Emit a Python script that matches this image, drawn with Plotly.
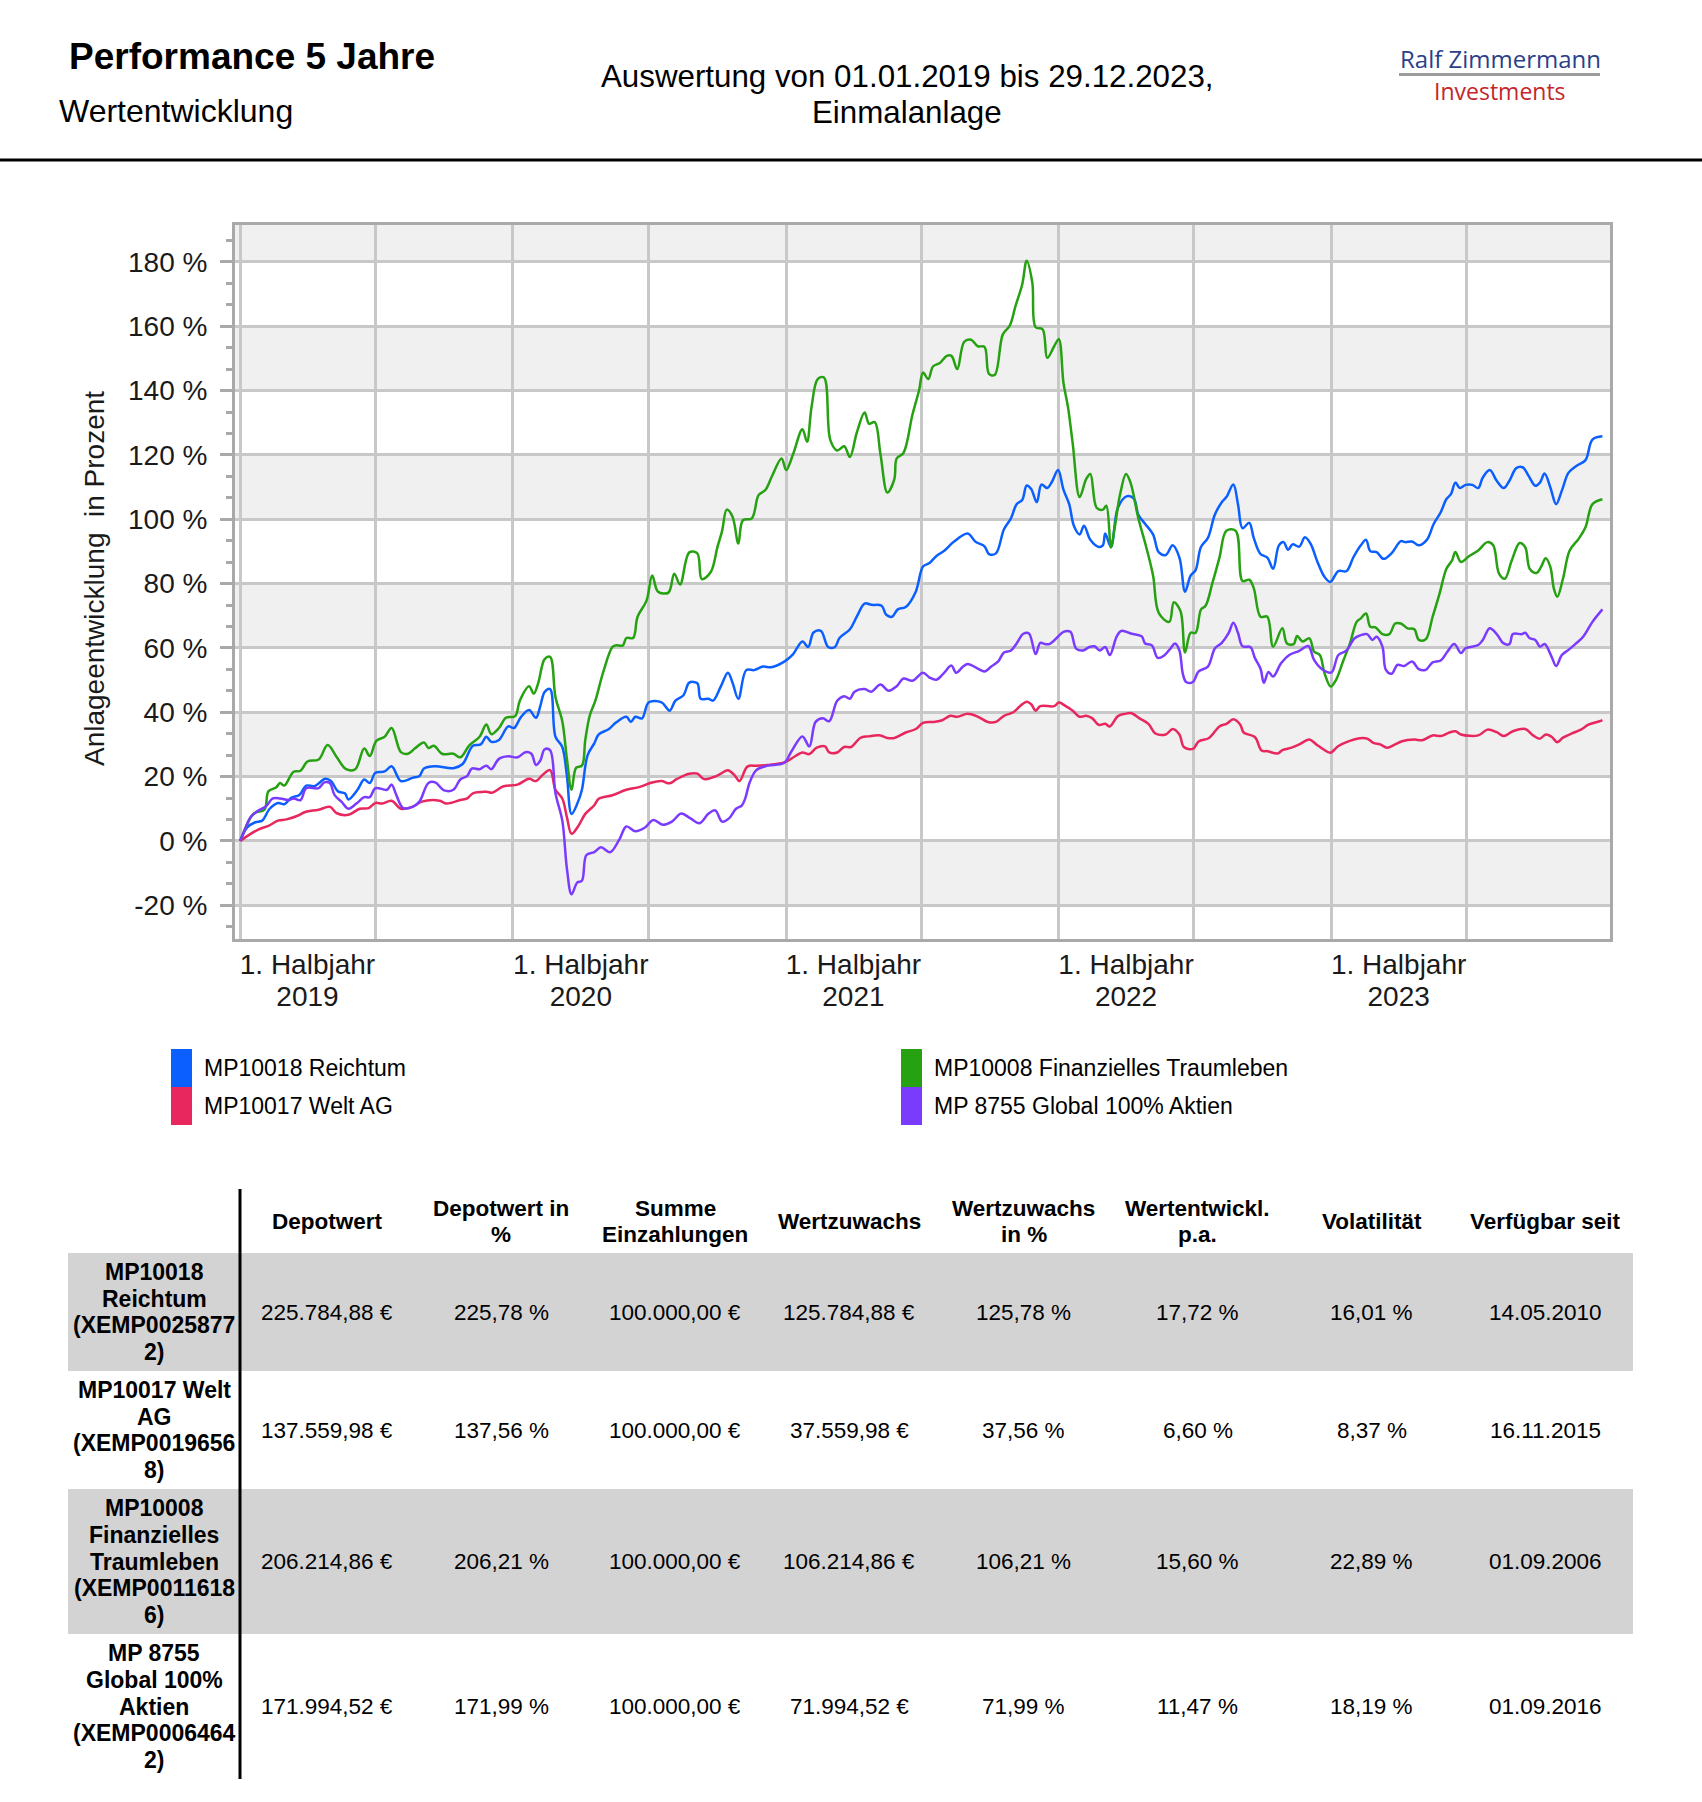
import pandas as pd
import plotly.graph_objects as go

W, H = 1702, 1802
FONT = "Liberation Sans, Arial, sans-serif"
LOGO_FONT = "Open Sans, sans-serif"

# ---------------- chart data (x: months since 01.01.2019, y: Anlageentwicklung in %) -------------
reichtum_m = [0, 0.3, 0.65, 0.95, 1.3, 1.7, 2.0, 2.3, 2.65, 2.95, 3.3, 3.8, 4.05, 4.35, 4.65, 4.8, 5.2, 5.5, 5.75, 6.0,
              6.4, 6.7, 7.1, 7.6, 7.9, 8.1, 8.6, 9.4, 9.8, 10.25, 10.6, 10.85, 11.07, 11.4, 11.8, 12.05, 12.35, 12.7,
              13.0, 13.2, 13.4, 13.65, 13.9, 14.2, 14.4, 14.6, 14.85, 15.05, 15.3, 15.6, 15.8, 16.25, 16.55, 17.0,
              17.2, 17.4, 17.7, 18.0, 18.55, 18.9, 19.15, 19.5, 19.75, 20.1, 20.25, 20.6, 20.8, 21.15, 21.45, 21.65,
              21.9, 22.25, 22.6, 23.0, 23.35, 23.95, 24.3, 24.7, 24.95, 25.2, 25.55, 25.9, 26.2, 26.4, 26.85, 27.15,
              27.5, 27.8, 28.25, 28.45, 28.7, 28.95, 29.3, 29.75, 30.07, 30.35, 30.65, 31.0, 31.4, 32.0, 32.35, 32.75,
              32.95, 33.25, 33.6, 33.9, 34.15, 34.4, 34.6, 34.8, 35.05, 35.25, 35.5, 35.7, 35.97, 36.2, 36.45, 36.65,
              36.9, 37.1, 37.4, 37.8, 38.0, 38.1, 38.35, 38.65, 39.05, 39.35, 39.55, 39.85, 40.2, 40.45, 40.75, 41.05,
              41.35, 41.6, 41.85, 42.07, 42.3, 42.6, 42.9, 43.2, 43.4, 43.7, 43.9, 44.1, 44.4, 44.6, 44.9, 45.2,
              45.45, 45.7, 45.9, 46.1, 46.3, 46.6, 46.85, 47.1, 47.4, 47.7, 47.95, 48.3, 48.65, 48.95, 49.3, 49.55,
              49.75, 50.05, 50.35, 50.7, 51.1, 51.3, 51.6, 51.9, 52.25, 52.55, 52.85, 53.1, 53.3, 53.5, 53.7, 53.95,
              54.25, 54.5, 54.7, 55.0, 55.3, 55.6, 55.85, 56.15, 56.45, 56.7, 57.0, 57.2, 57.4, 57.65, 57.9, 58.15,
              58.45, 58.8, 59.2, 59.5, 59.93]
reichtum_v = [0, 4.2, 5.8, 6.3, 10.0, 11.8, 11.4, 13.4, 14.3, 17.2, 17.0, 19.3, 18.6, 15.4, 14.8, 12.9, 15.9, 19.1,
              18.0, 21.2, 21.6, 23.2, 18.6, 19.6, 20.2, 22.5, 23.2, 22.6, 23.9, 29.6, 30.0, 32.4, 30.8, 31.4, 35.6,
              35.1, 38.5, 40.7, 38.3, 42.0, 46.3, 47.2, 32.4, 29.2, 20.2, 8.4, 11.6, 15.9, 26.6, 30.3, 33.1, 34.8,
              36.8, 38.6, 37.0, 38.6, 38.1, 43.1, 43.1, 40.5, 43.6, 45.3, 49.2, 49.0, 44.2, 44.2, 43.6, 48.1, 52.3,
              49.2, 44.2, 53.1, 53.1, 54.2, 54.0, 55.9, 58.1, 62.0, 60.3, 64.8, 65.3, 60.3, 60.3, 63.1, 65.8, 69.7,
              73.8, 73.4, 73.1, 70.3, 69.7, 72.0, 72.7, 77.5, 85.3, 86.4, 88.6, 90.3, 93.0, 95.6, 93.0, 91.6, 89.2,
              89.4, 96.9, 100.3, 104.7, 106.0, 110.5, 109.4, 105.3, 110.8, 109.7, 111.6, 115.3, 109.2, 104.7, 98.0,
              95.3, 98.0, 93.6, 91.4, 91.9, 95.6, 91.4, 103.6, 107.2, 106.4, 101.4, 98.6, 95.3, 89.7, 88.9, 91.9,
              88.1, 77.5, 82.5, 84.2, 91.4, 94.2, 101.4, 105.3, 106.9, 110.8, 104.7, 97.2, 98.9, 94.2, 89.2, 88.1,
              84.6, 91.9, 92.9, 90.5, 92.2, 91.5, 94.4, 92.4, 86.7, 82.1, 80.5, 83.9, 83.9, 88.2, 91.9, 93.6, 90.1,
              89.8, 87.7, 89.5, 93.2, 92.9, 93.1, 91.9, 93.6, 98.6, 102.2, 106.3, 107.8, 111.4, 109.7, 110.7, 110.7,
              109.7, 113.0, 115.3, 112.0, 109.7, 112.0, 115.9, 116.1, 113.5, 110.4, 111.4, 114.2, 109.9, 104.7,
              108.9, 114.5, 116.6, 118.4, 124.8, 125.78]

welt_m = [0, 0.45, 0.8, 1.24, 1.7, 2.1, 2.6, 2.9, 3.5, 4.0, 4.3, 4.8, 5.3, 5.7, 6.0, 6.3, 6.7, 7.1, 7.6, 8.0, 8.8,
          9.1, 9.7, 10.0, 10.25, 10.85, 11.1, 11.6, 12.2, 12.7, 13.0, 13.3, 13.65, 13.9, 14.2, 14.4, 14.6, 14.9,
          15.2, 15.6, 15.8, 16.4, 17.0, 17.6, 18.1, 18.55, 18.9, 19.2, 19.75, 20.1, 20.4, 20.8, 21.15, 21.45,
          21.75, 21.95, 22.3, 22.7, 23.2, 23.95, 24.4, 24.7, 25.0, 25.35, 25.75, 25.95, 26.3, 26.6, 26.9, 27.3,
          27.65, 28.2, 28.5, 28.8, 29.3, 29.75, 30.07, 30.5, 30.9, 31.25, 31.55, 32.0, 32.45, 32.9, 33.25, 33.6,
          34.0, 34.3, 34.6, 34.8, 35.0, 35.2, 35.8, 36.0, 36.3, 36.6, 36.9, 37.2, 37.5, 37.8, 38.1, 38.3, 38.65,
          38.95, 39.25, 39.6, 40.0, 40.3, 40.75, 41.05, 41.35, 41.55, 41.95, 42.2, 42.65, 43.1, 43.4, 43.7, 44.0,
          44.15, 44.65, 44.95, 45.2, 45.65, 45.85, 46.25, 46.6, 47.05, 47.35, 47.65, 47.95, 48.3, 48.65, 49.25,
          49.6, 49.9, 50.2, 50.5, 50.85, 51.15, 51.7, 52.05, 52.5, 52.85, 53.2, 53.5, 53.75, 54.5, 54.9, 55.3,
          55.6, 56.0, 56.55, 56.9, 57.2, 57.45, 57.7, 57.95, 58.2, 58.6, 59.0, 59.35, 59.8, 59.93]
welt_v = [0, 2.2, 3.6, 4.7, 6.3, 6.7, 7.9, 9.0, 9.7, 10.6, 8.6, 8.1, 10.0, 10.2, 11.8, 11.6, 12.5, 10.0, 10.6, 12.2,
          12.5, 11.6, 12.7, 13.2, 14.8, 15.3, 15.0, 17.0, 17.5, 19.3, 18.6, 20.5, 22.0, 15.9, 13.2, 7.4, 2.2, 4.7,
          8.4, 11.1, 13.1, 14.2, 15.9, 16.8, 18.1, 18.6, 17.9, 19.2, 20.9, 20.9, 19.2, 19.8, 20.9, 22.0, 20.3,
          18.6, 23.1, 23.4, 23.6, 24.5, 26.4, 27.5, 27.0, 29.0, 29.4, 27.5, 27.5, 29.2, 29.2, 32.0, 32.5, 32.8,
          32.0, 32.0, 33.7, 34.8, 36.7, 37.0, 37.5, 38.9, 38.6, 39.5, 38.6, 37.0, 37.0, 38.9, 40.0, 41.9, 43.3,
          42.5, 40.5, 41.9, 41.9, 43.0, 41.9, 40.5, 38.6, 38.9, 38.1, 36.1, 36.4, 35.6, 38.8, 39.5, 39.7, 38.1,
          36.4, 33.4, 33.1, 34.8, 33.1, 29.2, 28.6, 30.9, 32.0, 35.6, 36.4, 37.8, 36.1, 33.7, 32.3, 28.1, 27.9,
          27.2, 28.2, 29.0, 30.0, 31.5, 30.0, 28.5, 27.4, 29.5, 30.7, 31.9, 31.8, 30.5, 30.0, 29.0, 30.0, 31.0,
          31.5, 31.3, 32.8, 32.6, 33.6, 34.1, 33.1, 32.8, 34.6, 33.8, 32.6, 34.1, 34.8, 32.8, 31.8, 33.1, 32.4,
          30.7, 32.1, 33.4, 34.6, 36.2, 37.2, 37.56]

traumleben_m = [0, 0.6, 1.05, 1.24, 1.6, 1.8, 2.0, 2.4, 2.7, 3.0, 3.5, 3.9, 4.3, 4.7, 5.1, 5.5, 5.75, 6.04, 6.4, 6.7,
                7.1, 7.4, 7.7, 8.1, 8.3, 8.55, 8.9, 9.4, 9.7, 10.1, 10.55, 10.85, 11.07, 11.4, 11.7, 12.1, 12.3, 12.7,
                12.9, 13.1, 13.4, 13.65, 13.9, 14.2, 14.4, 14.6, 14.8, 15.05, 15.2, 15.4, 15.65, 16.0, 16.4, 16.55,
                16.85, 17.0, 17.3, 17.5, 17.9, 18.15, 18.4, 18.85, 19.1, 19.35, 19.75, 20.1, 20.3, 20.7, 21.0, 21.2,
                21.4, 21.65, 21.9, 22.1, 22.5, 22.8, 23.1, 23.4, 23.8, 24.0, 24.3, 24.7, 24.9, 25.1, 25.4, 25.7, 26.0,
                26.3, 26.6, 26.85, 27.15, 27.5, 27.7, 27.95, 28.2, 28.5, 28.8, 28.9, 29.2, 29.6, 29.9, 30.07, 30.3,
                30.5, 30.8, 31.1, 31.3, 31.55, 31.85, 32.15, 32.45, 32.75, 32.95, 33.2, 33.55, 33.85, 34.1, 34.4,
                34.6, 34.85, 35.0, 35.3, 35.5, 35.8, 36.0, 36.2, 36.4, 36.6, 36.9, 37.2, 37.4, 37.7, 38.0, 38.15,
                38.35, 38.5, 38.75, 39.0, 39.2, 39.55, 39.9, 40.2, 40.45, 40.9, 41.1, 41.4, 41.6, 41.85, 42.07, 42.3,
                42.5, 42.8, 43.1, 43.4, 43.8, 44.1, 44.4, 44.6, 44.9, 45.2, 45.45, 45.85, 46.05, 46.35, 46.5, 46.75,
                47.05, 47.25, 47.5, 47.7, 47.97, 48.2, 48.5, 48.8, 49.1, 49.3, 49.55, 49.75, 50.0, 50.3, 50.6, 50.85,
                51.1, 51.4, 51.7, 51.9, 52.2, 52.5, 52.8, 53.1, 53.35, 53.5, 53.75, 54.1, 54.5, 54.9, 55.15, 55.4,
                55.65, 55.95, 56.3, 56.55, 56.75, 57.05, 57.25, 57.45, 57.65, 57.8, 57.95, 58.2, 58.5, 58.9, 59.2,
                59.5, 59.93]
traumleben_v = [0, 8.6, 9.7, 15.4, 16.6, 18.0, 17.2, 21.5, 21.8, 24.7, 25.3, 29.8, 26.0, 22.3, 22.3, 28.7, 26.4,
                31.1, 32.4, 35.1, 27.6, 27.1, 28.7, 30.6, 28.9, 29.6, 27.1, 27.1, 26.0, 29.8, 32.4, 36.2, 33.2, 35.1,
                38.3, 38.8, 43.6, 48.1, 45.8, 49.0, 56.5, 57.2, 44.7, 37.2, 25.5, 15.9, 22.8, 23.4, 31.4, 39.0, 43.6,
                52.5, 60.3, 60.8, 60.8, 63.1, 63.1, 69.7, 74.7, 82.5, 77.5, 77.2, 83.1, 79.7, 89.7, 89.4, 81.4, 83.6,
                91.4, 96.4, 103.0, 100.8, 92.5, 99.7, 100.3, 107.5, 109.1, 113.6, 118.9, 115.3, 120.3, 128.0, 124.1,
                134.7, 143.6, 144.1, 124.7, 121.4, 122.7, 119.4, 126.9, 133.2, 129.7, 130.2, 120.3, 108.3, 112.5,
                118.9, 120.6, 132.5, 140.2, 145.6, 143.6, 147.5, 148.6, 150.8, 150.8, 146.7, 155.2, 155.8, 153.8,
                153.6, 145.2, 144.9, 157.5, 160.2, 166.3, 173.0, 180.4, 173.6, 159.7, 159.1, 150.2, 153.8, 156.0,
                142.5, 134.7, 123.6, 106.9, 112.5, 114.1, 103.6, 103.0, 104.2, 91.2, 96.9, 108.0, 114.1, 111.4, 100.3,
                91.4, 82.5, 70.8, 68.1, 74.2, 71.4, 58.6, 64.7, 64.7, 71.9, 73.1, 80.3, 88.1, 96.4, 96.4, 80.8, 81.2,
                78.6, 69.7, 69.7, 60.4, 66.1, 61.4, 61.2, 63.7, 62.0, 63.0, 58.9, 57.8, 52.2, 48.0, 50.1, 55.8, 61.4,
                68.1, 69.2, 70.7, 66.6, 66.4, 64.3, 64.3, 67.6, 67.6, 66.1, 65.8, 62.5, 62.7, 69.7, 76.9, 84.6, 87.2,
                89.8, 86.7, 88.5, 90.3, 92.9, 91.9, 83.1, 81.5, 87.2, 92.6, 91.3, 84.6, 83.3, 85.2, 87.9, 85.2, 78.5,
                75.9, 81.5, 90.3, 93.9, 97.5, 104.7, 106.21]

global_m = [0, 0.2, 0.45, 0.8, 1.1, 1.45, 1.8, 2.2, 2.4, 2.7, 2.95, 3.5, 3.75, 4.0, 4.2, 4.5, 4.8, 5.15, 5.5, 5.75,
            6.0, 6.5, 6.7, 6.9, 7.2, 7.6, 7.9, 8.3, 8.6, 9.0, 9.4, 9.7, 10.0, 10.2, 10.55, 10.85, 11.07, 11.4, 11.8,
            12.2, 12.55, 12.8, 13.0, 13.2, 13.4, 13.65, 13.9, 14.2, 14.4, 14.6, 14.85, 15.05, 15.25, 15.6, 15.9,
            16.3, 16.7, 17.0, 17.4, 17.8, 18.2, 18.6, 19.0, 19.4, 19.8, 20.2, 20.6, 20.9, 21.2, 21.5, 21.8, 22.05,
            22.2, 22.4, 22.7, 23.2, 23.9, 24.25, 24.7, 25.0, 25.3, 25.65, 25.95, 26.3, 26.6, 26.85, 27.05, 27.5,
            27.8, 28.2, 28.55, 28.9, 29.2, 29.6, 30.07, 30.35, 30.65, 30.95, 31.3, 31.5, 31.8, 32.0, 32.45, 32.75,
            33.05, 33.35, 33.6, 33.9, 34.15, 34.45, 34.7, 35.0, 35.2, 35.4, 35.6, 35.95, 36.2, 36.5, 36.75, 37.05,
            37.35, 37.6, 37.85, 38.1, 38.3, 38.6, 38.8, 39.25, 39.7, 39.85, 40.15, 40.4, 40.65, 40.95, 41.15, 41.35,
            41.5, 41.65, 41.95, 42.2, 42.6, 42.9, 43.2, 43.5, 43.7, 43.9, 44.1, 44.45, 44.65, 44.9, 45.05, 45.25,
            45.45, 45.8, 46.15, 46.6, 47.0, 47.25, 47.6, 48.0, 48.3, 48.65, 49.0, 49.3, 49.6, 49.85, 50.05, 50.3,
            50.45, 50.7, 50.95, 51.25, 51.6, 51.9, 52.2, 52.5, 52.85, 53.15, 53.45, 53.75, 53.95, 54.5, 54.7, 55.0,
            55.3, 55.6, 55.85, 56.0, 56.4, 56.55, 56.75, 57.0, 57.2, 57.4, 57.7, 57.9, 58.15, 58.45, 58.75, 59.1,
            59.5, 59.93]
global_v = [0, 3.5, 7.4, 9.5, 10.6, 13.2, 13.2, 12.7, 13.2, 12.7, 16.4, 16.4, 18.2, 18.0, 14.3, 12.2, 10.0, 11.6,
            13.6, 13.6, 16.4, 15.9, 17.5, 14.3, 10.2, 10.6, 12.2, 18.0, 18.2, 15.7, 15.9, 19.1, 20.2, 22.5, 22.3,
            23.4, 22.3, 25.5, 26.3, 26.0, 27.6, 27.1, 23.6, 25.0, 28.5, 28.2, 14.8, 6.3, -8.6, -16.6, -12.9, -12.4,
            -4.4, -3.5, -2.0, -3.5, 0.5, 4.5, 3.0, 4.0, 6.5, 5.0, 6.0, 8.5, 7.0, 5.5, 8.5, 9.5, 6.0, 7.0, 10.0,
            11.0, 13.1, 18.1, 22.0, 23.4, 24.2, 28.1, 32.5, 29.4, 37.0, 38.1, 37.2, 43.6, 45.0, 44.2, 46.4, 47.2,
            46.4, 48.6, 46.7, 48.1, 50.5, 49.8, 52.3, 50.8, 50.1, 52.0, 54.5, 52.3, 54.2, 55.0, 53.6, 52.7, 54.2,
            55.8, 58.6, 59.2, 61.4, 64.4, 64.5, 58.1, 61.6, 61.2, 61.2, 63.4, 65.0, 65.0, 59.8, 59.2, 60.3, 60.5,
            59.2, 60.3, 57.8, 63.6, 65.3, 64.4, 63.6, 61.4, 60.8, 56.9, 57.5, 59.8, 61.4, 59.2, 52.0, 49.4, 49.4,
            52.7, 54.2, 59.8, 61.6, 64.7, 67.8, 64.7, 60.5, 60.3, 56.9, 53.6, 49.2, 52.5, 51.1, 55.3, 57.8, 59.1,
            60.6, 56.3, 53.4, 52.4, 57.8, 59.2, 63.0, 64.0, 64.3, 62.5, 63.5, 60.4, 53.2, 52.0, 54.7, 54.4, 55.8,
            53.4, 53.2, 55.5, 56.1, 58.9, 61.2, 58.4, 59.9, 60.9, 62.5, 66.1, 64.3, 61.4, 61.2, 64.3, 64.3, 64.7,
            63.0, 62.5, 60.4, 61.2, 57.3, 54.4, 57.8, 59.4, 61.2, 63.5, 68.1, 71.99]

series_names = ["MP10018 Reichtum", "MP10017 Welt AG", "MP10008 Finanzielles Traumleben",
                "MP 8755 Global 100% Aktien"]
series_colors = ["#0B5FFF", "#E8275E", "#26A112", "#7B3BFF"]
series_months = [reichtum_m, welt_m, traumleben_m, global_m]
series_values = [reichtum_v, welt_v, traumleben_v, global_v]

y_ticks = [-20, 0, 20, 40, 60, 80, 100, 120, 140, 160, 180]
half_years = ["2019", "2020", "2021", "2022", "2023"]

# ---------------- table data ----------------
table_header = ["", "Depotwert", "Depotwert in<br>%", "Summe<br>Einzahlungen", "Wertzuwachs",
                "Wertzuwachs<br>in %", "Wertentwickl.<br>p.a.", "Volatilität", "Verfügbar seit"]
table_names = ["MP10018<br>Reichtum<br>(XEMP0025877<br>2)",
               "MP10017 Welt<br>AG<br>(XEMP0019656<br>8)",
               "MP10008<br>Finanzielles<br>Traumleben<br>(XEMP0011618<br>6)",
               "MP 8755<br>Global 100%<br>Aktien<br>(XEMP0006464<br>2)"]
depotwert = ["225.784,88 €", "137.559,98 €", "206.214,86 €", "171.994,52 €"]
depotwert_pct = ["225,78 %", "137,56 %", "206,21 %", "171,99 %"]
einzahlungen = ["100.000,00 €", "100.000,00 €", "100.000,00 €", "100.000,00 €"]
wertzuwachs = ["125.784,88 €", "37.559,98 €", "106.214,86 €", "71.994,52 €"]
wertzuwachs_pct = ["125,78 %", "37,56 %", "106,21 %", "71,99 %"]
wertentw_pa = ["17,72 %", "6,60 %", "15,60 %", "11,47 %"]
volatilitaet = ["16,01 %", "8,37 %", "22,89 %", "18,19 %"]
verfuegbar = ["14.05.2010", "16.11.2015", "01.09.2006", "01.09.2016"]
table_columns = [table_names, depotwert, depotwert_pct, einzahlungen, wertzuwachs, wertzuwachs_pct,
                 wertentw_pa, volatilitaet, verfuegbar]


def month_to_date(m):
    whole = int(m)
    start = pd.Timestamp("2019-01-01") + pd.DateOffset(months=whole)
    nxt = start + pd.DateOffset(months=1)
    return start + (nxt - start) * (m - whole)


def px(x):
    return x / W


def py(y):
    return 1 - y / H


X_RANGE = ["2018-12-25", "2024-01-09"]
grid_dates = [f"{y}-{mo:02d}-01" for y in range(2019, 2024) for mo in (1, 7)]
label_dates = [f"{y}-04-01" for y in half_years]

fig = go.Figure()

for name, ms, vs, col in zip(series_names, series_months, series_values, series_colors):
    fig.add_trace(go.Scatter(
        x=[month_to_date(m) for m in ms], y=vs, mode="lines", name=name,
        line=dict(color=col, width=2.5, shape="spline", smoothing=1.0),
        showlegend=False, hoverinfo="skip", xaxis="x", yaxis="y"))

for ax in ("x3", "x4"):
    fig.add_trace(go.Scatter(x=[], y=[], xaxis=ax, yaxis="y", showlegend=False, hoverinfo="skip"))

# alternating background bands
shapes = []
band_edges = y_ticks + [191.5]
for i in range(0, len(band_edges) - 1, 2):
    shapes.append(dict(type="rect", xref="x domain", yref="y", x0=0, x1=1,
                       y0=band_edges[i], y1=band_edges[i + 1], fillcolor="#f0f0f0",
                       line=dict(width=0), layer="below"))

# header separator
shapes.append(dict(type="line", xref="paper", yref="paper", x0=0, x1=1, y0=py(160), y1=py(160),
                   line=dict(color="black", width=3)))
# logo rule
shapes.append(dict(type="line", xref="paper", yref="paper", x0=px(1399), x1=px(1600), y0=py(74.5),
                   y1=py(74.5), line=dict(color="#9c9c9c", width=3)))

annotations = []


def ann(text, x, y, size, color="#000", xanchor="center", family=FONT, **kw):
    annotations.append(dict(text=text, x=px(x), y=py(y), xref="paper", yref="paper", xanchor=xanchor,
                            yanchor="middle", showarrow=False,
                            font=dict(size=size, color=color, family=family), **kw))


def ann_lines(text, x, yc, size, spacing=27, bold=False):
    lines = text.split("<br>")
    n = len(lines)
    for k, line in enumerate(lines):
        t = f"<b>{line}</b>" if bold else line
        ann(t, x, yc + (k - (n - 1) / 2) * spacing, size)


ann("<b>Performance 5 Jahre</b>", 252, 56, 37)
ann("Wertentwicklung", 57, 111, 32, xanchor="left")
ann("Auswertung von 01.01.2019 bis 29.12.2023,", 907, 76, 31.3)
ann("Einmalanlage", 907, 112, 31.3)
ann("Ralf Zimmermann", 1500, 58, 24, color="#2B3F8A", family=LOGO_FONT)
ann("Investments", 1500, 91, 23, color="#C4262B", family=LOGO_FONT)
ann("Anlageentwicklung\u00a0\u00a0in Prozent", 95, 579, 28, color="#1a1a1a", textangle=-90)

# legend (two columns)
legend_pos = [(171, 1049), (171, 1087), (901, 1049), (901, 1087)]
for (lx, ly), name, col in zip(legend_pos, series_names, series_colors):
    shapes.append(dict(type="rect", xref="paper", yref="paper", x0=px(lx), x1=px(lx + 21),
                       y0=py(ly + 38), y1=py(ly), fillcolor=col, line=dict(width=0)))
    ann(name, lx + 31, ly + 19, 23, xanchor="left")

# table
tab_left, tab_right, tab_top = 68, 1633, 1189
first_w = 172
col_w = (tab_right - tab_left - first_w) / 8
col_centers = [tab_left + first_w / 2] + [tab_left + first_w + col_w * (i + 0.5) for i in range(8)]
header_h = 64
for c, txt in zip(col_centers, table_header):
    if txt:
        ann_lines(txt, c, tab_top + header_h / 2, 22.5, spacing=26, bold=True)
row_top = tab_top + header_h
for r in range(len(table_names)):
    n_lines = table_names[r].count("<br>") + 1
    rh = 27 * n_lines + 10
    if r % 2 == 0:
        shapes.append(dict(type="rect", xref="paper", yref="paper", x0=px(tab_left), x1=px(tab_right),
                           y0=py(row_top + rh), y1=py(row_top), fillcolor="#d3d3d3", line=dict(width=0),
                           layer="below"))
    for ci, col in enumerate(table_columns):
        ann_lines(col[r], col_centers[ci], row_top + rh / 2, 23 if ci == 0 else 22.5, spacing=26.8,
                  bold=(ci == 0))
    row_top += rh
shapes.append(dict(type="line", xref="paper", yref="paper", x0=px(240), x1=px(240), y0=py(tab_top),
                   y1=py(row_top), line=dict(color="black", width=3)))

tick_font = dict(size=28, color="#1a1a1a", family=FONT)
fig.update_layout(
    width=W, height=H, margin=dict(l=0, r=0, t=0, b=0),
    paper_bgcolor="white", plot_bgcolor="white", showlegend=False,
    font=dict(family=FONT, color="#000"),
    xaxis=dict(domain=[px(235), px(1610)], anchor="y", type="date", range=X_RANGE,
               tickmode="array", tickvals=grid_dates, showticklabels=False, ticks="",
               showgrid=True, gridcolor="#c8c8c8", gridwidth=3, zeroline=False,
               showline=True, linecolor="#a9a9a9", linewidth=3, mirror=True),
    xaxis3=dict(overlaying="x", anchor="y", side="bottom", type="date", range=X_RANGE,
                tickmode="array", tickvals=label_dates, ticktext=["1. Halbjahr"] * len(half_years),
                showgrid=False, ticks="", showline=False, zeroline=False, tickfont=tick_font,
                ticklabelstandoff=6),
    xaxis4=dict(overlaying="x", anchor="y", side="bottom", type="date", range=X_RANGE,
                tickmode="array", tickvals=label_dates, ticktext=half_years,
                showgrid=False, ticks="", showline=False, zeroline=False, tickfont=tick_font,
                ticklabelstandoff=38),
    yaxis=dict(domain=[py(939), py(225)], anchor="x", range=[-30.5, 191.5],
               tickmode="array", tickvals=y_ticks, ticktext=[f"{v} %" for v in y_ticks],
               ticks="outside", ticklen=12, tickwidth=3, tickcolor="#a9a9a9", tickfont=tick_font,
               ticklabelstandoff=7,
               minor=dict(tickmode="linear", tick0=0, dtick=20 / 3, ticks="outside", ticklen=6,
                          tickwidth=3, tickcolor="#a9a9a9", showgrid=False),
               showgrid=True, gridcolor="#c8c8c8", gridwidth=3, zeroline=False,
               showline=True, linecolor="#a9a9a9", linewidth=3, mirror=True),
    shapes=shapes, annotations=annotations,
)

fig.write_html("out.html")
